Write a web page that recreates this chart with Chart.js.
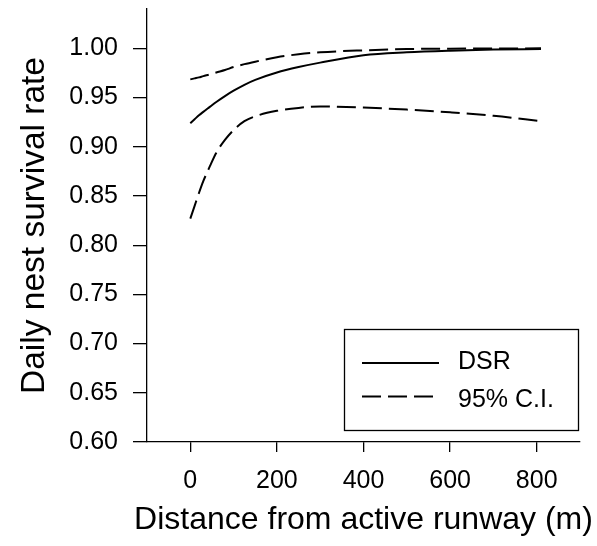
<!DOCTYPE html>
<html>
<head>
<meta charset="utf-8">
<script src="https://cdn.jsdelivr.net/npm/chart.js@4"></script>
<style>
html,body{margin:0;padding:0;background:#fff;}
#wrap{width:597px;height:546px;position:relative;}
</style>
</head>
<body>
<div id="wrap"><canvas id="c"></canvas></div>
<script>
// ---- data ----
const distance = [0, 10, 20, 30, 45, 60, 80, 100, 125, 150, 200, 250, 300, 400, 500, 600, 700, 810];
const dsr      = [0.924, 0.928, 0.932, 0.9355, 0.9405, 0.9455, 0.9515, 0.957, 0.9630, 0.968, 0.9755, 0.981, 0.9855, 0.993, 0.996, 0.9977, 0.9988, 0.9994];
const ciUpper  = [0.9685, 0.9695, 0.9705, 0.9718, 0.9735, 0.9755, 0.978, 0.981, 0.984, 0.9865, 0.991, 0.994, 0.996, 0.998, 0.9993, 0.9997, 0.9999, 1.0];
const ciLower  = [0.827, 0.840, 0.853, 0.865, 0.880, 0.894, 0.907, 0.917, 0.926, 0.931, 0.9365, 0.9395, 0.941, 0.9398, 0.9378, 0.935, 0.9315, 0.926];
const xTicks   = [0, 200, 400, 600, 800];
const yTicks   = [0.60, 0.65, 0.70, 0.75, 0.80, 0.85, 0.90, 0.95, 1.00];
const legendLabels = ['DSR', '95% C.I.'];
const xTitle = 'Distance from active runway (m)';
const yTitle = 'Daily nest survival rate';

const FONT = '"Liberation Sans", Arial, Helvetica, sans-serif';
const pts = arr => distance.map((x, i) => ({x: x, y: arr[i]}));

const legendPlugin = {
  id: 'boxLegend',
  afterDraw(chart) {
    const ctx = chart.ctx;
    ctx.save();
    // x-axis title (drawn here so it is not squeezed to the plot width)
    const ca = chart.chartArea;
    ctx.font = '32px ' + FONT;
    ctx.fillStyle = '#000';
    ctx.textAlign = 'center';
    ctx.textBaseline = 'middle';
    ctx.fillText(xTitle, (ca.left + ca.right) / 2, 520);
    // legend box
    ctx.strokeStyle = '#000';
    ctx.lineWidth = 1.3;
    ctx.setLineDash([]);
    ctx.strokeRect(344.5, 329.5, 234, 101);
    const entries = chart.data.datasets.filter(d => d.inLegend);
    const lineY = [363, 396.5];
    const textY = [362.5, 400];
    entries.forEach((d, i) => {
      ctx.strokeStyle = d.borderColor;
      ctx.lineWidth = d.borderWidth;
      ctx.setLineDash(d.borderDash || []);
      ctx.beginPath();
      ctx.moveTo(362, lineY[i]);
      ctx.lineTo(439, lineY[i]);
      ctx.stroke();
      ctx.setLineDash([]);
      ctx.font = '25px ' + FONT;
      ctx.textBaseline = 'middle';
      ctx.textAlign = 'left';
      ctx.fillStyle = '#000';
      ctx.fillText(d.label, 458, textY[i]);
    });
    ctx.restore();
  }
};

new Chart(document.getElementById('c'), {
  type: 'line',
  data: {
    datasets: [
      {label: legendLabels[0], data: pts(dsr), borderColor: '#000', borderWidth: 2, pointRadius: 0, cubicInterpolationMode: 'monotone', inLegend: true},
      {label: legendLabels[1], data: pts(ciUpper), borderColor: '#000', borderWidth: 2, borderDash: [19, 7], pointRadius: 0, cubicInterpolationMode: 'monotone', inLegend: true},
      {label: legendLabels[1] + ' lower', data: pts(ciLower), borderColor: '#000', borderWidth: 2, borderDash: [19, 7], pointRadius: 0, cubicInterpolationMode: 'monotone', inLegend: false}
    ]
  },
  options: {
    responsive: true,
    maintainAspectRatio: false,
    animation: false,
    layout: {padding: {left: 0, top: 9, right: 17, bottom: 0}},
    plugins: {legend: {display: false}, tooltip: {enabled: false}},
    scales: {
      x: {
        type: 'linear', min: -100, max: 900,
        afterBuildTicks: s => { s.ticks = xTicks.map(v => ({value: v})); },
        afterFit: s => { s.height = 104; s.paddingLeft = 0; s.paddingRight = 0; },
        ticks: {font: {size: 25, family: FONT}, color: '#000', padding: 14, maxRotation: 0, autoSkip: false},
        grid: {display: true, drawOnChartArea: false, drawTicks: true, tickLength: 10, color: '#000', lineWidth: 1.3},
        border: {display: true, color: '#000', width: 1.3},
        title: {display: false, text: xTitle}
      },
      y: {
        type: 'linear', min: 0.6, max: 1.04,
        afterBuildTicks: s => { s.ticks = yTicks.map(v => ({value: v})); },
        afterFit: s => { s.width = 147; s.paddingTop = 0; s.paddingBottom = 0; },
        ticks: {font: {size: 25, family: FONT}, color: '#000', padding: 15, callback: v => Number(v).toFixed(2)},
        grid: {display: true, drawOnChartArea: false, drawTicks: true, tickLength: 14, color: '#000', lineWidth: 1.3},
        border: {display: true, color: '#000', width: 1.3},
        title: {display: true, text: yTitle, font: {size: 33.5, family: FONT}, color: '#000', padding: {top: 15, bottom: 0}}
      }
    }
  },
  plugins: [legendPlugin]
});
</script>
</body>
</html>
